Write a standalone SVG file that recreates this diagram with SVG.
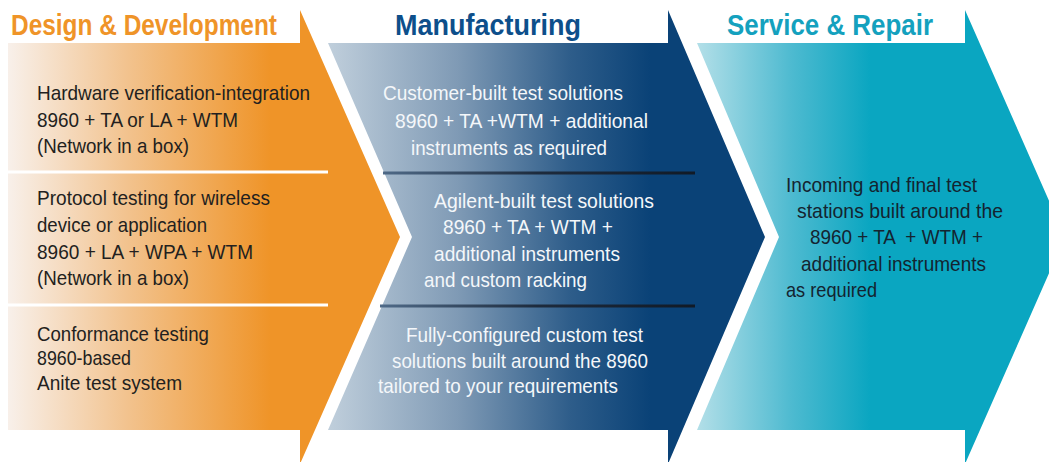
<svg xmlns="http://www.w3.org/2000/svg" width="1049" height="462" viewBox="0 0 1049 462">
  <defs>
    <linearGradient id="gOrange" gradientUnits="userSpaceOnUse" x1="8" y1="0" x2="270" y2="0">
      <stop offset="0" stop-color="#f8f0ea"/>
      <stop offset="0.45" stop-color="#f2c38f"/>
      <stop offset="1" stop-color="#ef9428"/>
    </linearGradient>
    <linearGradient id="gBlue" gradientUnits="userSpaceOnUse" x1="330" y1="0" x2="650" y2="0">
      <stop offset="0" stop-color="#bfcedb"/>
      <stop offset="0.4" stop-color="#7f9ab5"/>
      <stop offset="0.75" stop-color="#2e5d8a"/>
      <stop offset="1" stop-color="#0a4277"/>
    </linearGradient>
    <linearGradient id="gTeal" gradientUnits="userSpaceOnUse" x1="697" y1="0" x2="870" y2="0">
      <stop offset="0" stop-color="#b3dfe8"/>
      <stop offset="0.55" stop-color="#4dbad0"/>
      <stop offset="1" stop-color="#0aa6c1"/>
    </linearGradient>
    <linearGradient id="gLine" gradientUnits="userSpaceOnUse" x1="380" y1="0" x2="695" y2="0">
      <stop offset="0" stop-color="#4f6a88"/>
      <stop offset="0.5" stop-color="#1d2b3d"/>
      <stop offset="1" stop-color="#111a26"/>
    </linearGradient>
  </defs>
  <style>
    .hdr { font-family: "Liberation Sans", Arial, sans-serif; font-weight: bold; font-size: 29px; }
    .body { font-family: "Liberation Sans Narrow", "Liberation Sans", Arial, sans-serif; font-size: 21px; white-space: pre; }
    .dark { fill: #231f20; }
    .light { fill: #f4f7fa; }
    .tealtxt { fill: #142430; }
    .wline { stroke: #ffffff; stroke-width: 3; }
    .bline { stroke: url(#gLine); stroke-width: 3; }
  </style>
  <rect x="0" y="0" width="1049" height="462" fill="#ffffff"/>

  <g id="design-development">
    <polygon points="8,43 300,43 300,10 400,237 300,464 300,430 8,430" fill="url(#gOrange)"/>
    <text class="hdr" x="11" y="35" fill="#ef9428" textLength="266" lengthAdjust="spacingAndGlyphs">Design &amp; Development</text>
    <line class="wline" x1="8" y1="172" x2="328" y2="172"/>
    <line class="wline" x1="8" y1="305" x2="328" y2="305"/>
    <text class="body dark" x="37" y="100" textLength="273" lengthAdjust="spacingAndGlyphs">Hardware verification-integration</text>
    <text class="body dark" x="37" y="127" textLength="201" lengthAdjust="spacingAndGlyphs">8960 + TA or LA + WTM</text>
    <text class="body dark" x="37" y="153" textLength="152" lengthAdjust="spacingAndGlyphs">(Network in a box)</text>
    <text class="body dark" x="37" y="205" textLength="233" lengthAdjust="spacingAndGlyphs">Protocol testing for wireless</text>
    <text class="body dark" x="37" y="232" textLength="170" lengthAdjust="spacingAndGlyphs">device or application</text>
    <text class="body dark" x="37" y="259" textLength="216" lengthAdjust="spacingAndGlyphs">8960 + LA + WPA + WTM</text>
    <text class="body dark" x="37" y="285" textLength="152" lengthAdjust="spacingAndGlyphs">(Network in a box)</text>
    <text class="body dark" x="37" y="341" textLength="172" lengthAdjust="spacingAndGlyphs">Conformance testing</text>
    <text class="body dark" x="37" y="365" textLength="94" lengthAdjust="spacingAndGlyphs">8960-based</text>
    <text class="body dark" x="37" y="390" textLength="145" lengthAdjust="spacingAndGlyphs">Anite test system</text>
  </g>

  <g id="manufacturing">
    <polygon points="328,43 668,43 668,10 765,237 668,464 668,430 328,430 412,237" fill="url(#gBlue)"/>
    <text class="hdr" x="395" y="35" fill="#0d4f8b" textLength="186" lengthAdjust="spacingAndGlyphs">Manufacturing</text>
    <line class="bline" x1="383" y1="173" x2="695" y2="173"/>
    <line class="bline" x1="380" y1="306" x2="695" y2="306"/>
    <text class="body light" x="383" y="100" textLength="240" lengthAdjust="spacingAndGlyphs">Customer-built test solutions</text>
    <text class="body light" x="395" y="128" textLength="253" lengthAdjust="spacingAndGlyphs">8960 + TA +WTM + additional</text>
    <text class="body light" x="411" y="155" textLength="196" lengthAdjust="spacingAndGlyphs">instruments as required</text>
    <text class="body light" x="434" y="208" textLength="220" lengthAdjust="spacingAndGlyphs">Agilent-built test solutions</text>
    <text class="body light" x="443" y="234" textLength="170" lengthAdjust="spacingAndGlyphs">8960 + TA + WTM +</text>
    <text class="body light" x="434" y="261" textLength="186" lengthAdjust="spacingAndGlyphs">additional instruments</text>
    <text class="body light" x="424" y="287" textLength="163" lengthAdjust="spacingAndGlyphs">and custom racking</text>
    <text class="body light" x="406" y="342" textLength="237" lengthAdjust="spacingAndGlyphs">Fully-configured custom test</text>
    <text class="body light" x="392" y="368" textLength="256" lengthAdjust="spacingAndGlyphs">solutions built around the 8960</text>
    <text class="body light" x="378" y="393" textLength="240" lengthAdjust="spacingAndGlyphs">tailored to your requirements</text>
  </g>

  <g id="service-repair">
    <polygon points="697,43 965,43 965,10 1065,237 965,464 965,430 697,430 779,237" fill="url(#gTeal)"/>
    <text class="hdr" x="727" y="35" fill="#14a1be" textLength="206" lengthAdjust="spacingAndGlyphs">Service &amp; Repair</text>
    <text class="body tealtxt" x="786" y="192" textLength="191" lengthAdjust="spacingAndGlyphs">Incoming and final test</text>
    <text class="body tealtxt" x="797" y="218" textLength="206" lengthAdjust="spacingAndGlyphs">stations built around the</text>
    <text class="body tealtxt" x="810" y="244" textLength="173" lengthAdjust="spacingAndGlyphs">8960 + TA  + WTM +</text>
    <text class="body tealtxt" x="801" y="271" textLength="185" lengthAdjust="spacingAndGlyphs">additional instruments</text>
    <text class="body tealtxt" x="786" y="297" textLength="91" lengthAdjust="spacingAndGlyphs">as required</text>
  </g>

  <g id="connectors"/>
</svg>
